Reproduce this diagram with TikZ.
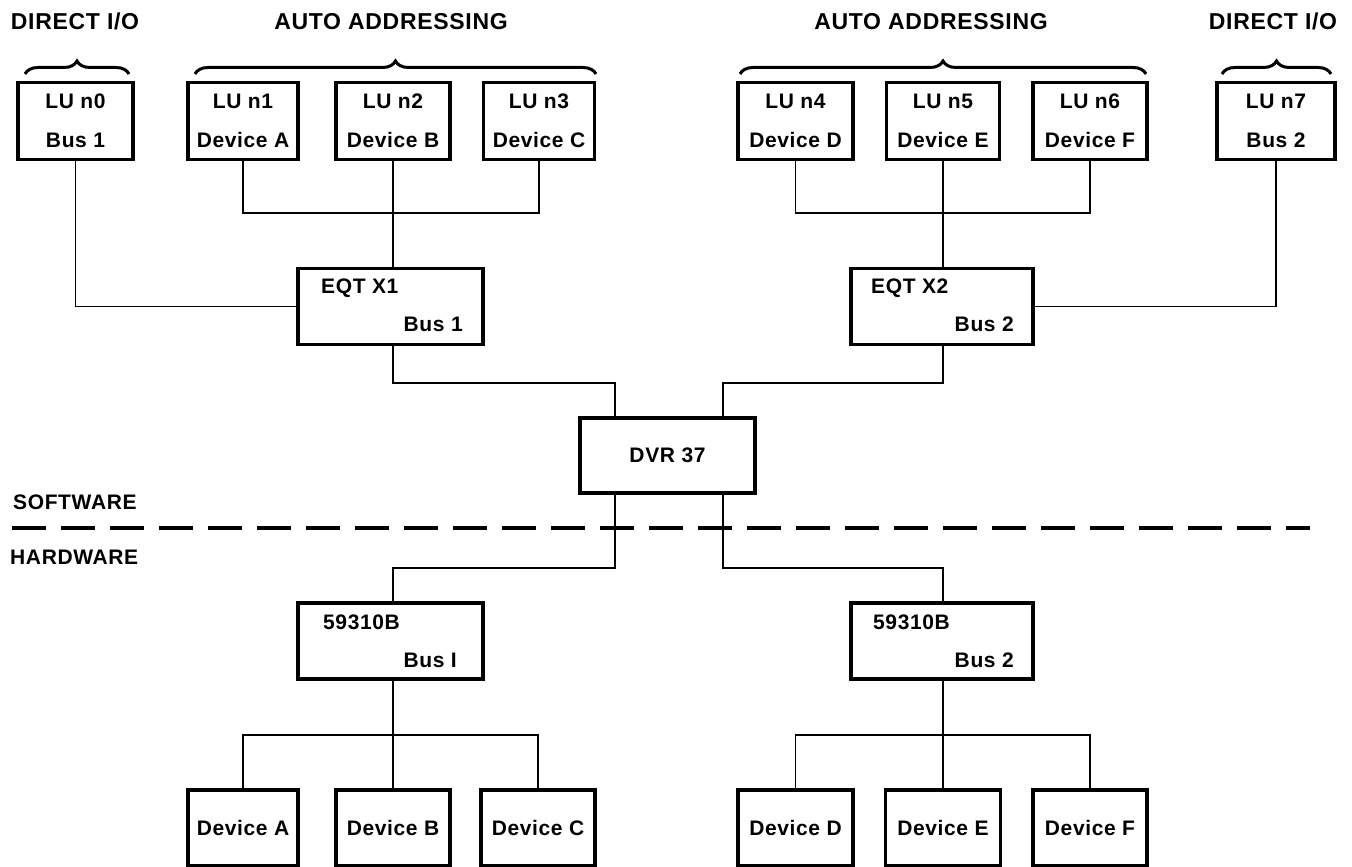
\documentclass[tikz,border=0pt]{standalone}
\usepackage{fontspec}
\setmainfont[LetterSpace=3]{Liberation Sans}
\usetikzlibrary{decorations.pathreplacing}

\begin{document}
\begin{tikzpicture}[x=1pt, y=-1pt,
  box/.style={draw, line width=3.2pt, minimum height=77pt, inner sep=0pt, align=center,
    font=\fontsize{21}{39}\selectfont\bfseries},
  txt/.style={inner sep=0pt, font=\fontsize{21}{24}\selectfont\bfseries},
  head/.style={inner sep=0pt, anchor=base, font=\fontsize{23}{26}\selectfont\bfseries},
  wire/.style={line width=1.7pt},
  group/.style={decorate, decoration={brace, amplitude=13pt}, line width=3pt}]
  \useasboundingbox (0,0) rectangle (1352,867);

  % headings over the logical units
  \node[head] (dio1) at (75,30) {DIRECT I/O};
  \node[head] (auto1) at (391,30) {AUTO ADDRESSING};
  \node[head] (auto2) at (931,30) {AUTO ADDRESSING};
  \node[head] (dio2) at (1273,30) {DIRECT I/O};
  \draw[group] (25,74) -- (129,74);
  \draw[group] (195,74) -- (596,74);
  \draw[group] (740,74) -- (1146,74);
  \draw[group] (1222,74) -- (1331,74);

  % logical units
  \node[box, minimum width=115pt] (n0) at (75.5,121) {LU n0\\Bus 1};
  \node[box, minimum width=110pt] (n1) at (243,121) {LU n1\\Device A};
  \node[box, minimum width=114pt] (n2) at (393,121) {LU n2\\Device B};
  \node[box, minimum width=111pt] (n3) at (539,121) {LU n3\\Device C};
  \node[box, minimum width=115pt] (n4) at (795.5,121) {LU n4\\Device D};
  \node[box, minimum width=113pt] (n5) at (943,121) {LU n5\\Device E};
  \node[box, minimum width=114pt] (n6) at (1090,121) {LU n6\\Device F};
  \node[box, minimum width=118pt] (n7) at (1276,121) {LU n7\\Bus 2};

  % equipment table entries
  \node[box, minimum width=185pt, minimum height=76pt] (eqt1) at (390.5,306.5) {};
  \node[txt, anchor=base west] (eqt1a) at (321,293) {EQT X1};
  \node[txt, anchor=base east] (eqt1b) at (463,331) {Bus 1};
  \node[box, minimum width=182pt, minimum height=76pt] (eqt2) at (942,306.5) {};
  \node[txt, anchor=base west] (eqt2a) at (871,293) {EQT X2};
  \node[txt, anchor=base east] (eqt2b) at (1014,331) {Bus 2};

  % driver
  \node[box, minimum width=175pt, minimum height=75pt] (dvr) at (667.5,455.5) {DVR 37};

  % software / hardware split
  \node[txt, anchor=base west] (sw) at (13,509) {SOFTWARE};
  \node[txt, anchor=base west] (hw) at (10,564) {HARDWARE};
  \coordinate (splitL) at (12,528);
  \coordinate (splitR) at (1310,528);
  \draw[line width=3.5pt, dash pattern=on 34pt off 15pt] (splitL) -- (splitR);

  % interface cards
  \node[box, minimum width=185pt, minimum height=76pt] (card1) at (390.5,641) {};
  \node[txt, anchor=base west] (card1a) at (323,629) {59310B};
  \node[txt, anchor=base east] (card1b) at (457,667) {Bus I};
  \node[box, minimum width=182pt, minimum height=76pt] (card2) at (942,641) {};
  \node[txt, anchor=base west] (card2a) at (873,629) {59310B};
  \node[txt, anchor=base east] (card2b) at (1014,667) {Bus 2};

  % devices
  \node[box, minimum width=110pt, minimum height=76pt] (devA) at (243,828) {Device A};
  \node[box, minimum width=114pt, minimum height=76pt] (devB) at (393,828) {Device B};
  \node[box, minimum width=114pt, minimum height=76pt] (devC) at (538,828) {Device C};
  \node[box, minimum width=115pt, minimum height=76pt] (devD) at (795.5,828) {Device D};
  \node[box, minimum width=115pt, minimum height=76pt] (devE) at (943,828) {Device E};
  \node[box, minimum width=114pt, minimum height=76pt] (devF) at (1090,828) {Device F};

  % junction points
  \coordinate (busL) at (393,213);
  \coordinate (busR) at (943,213);
  \coordinate (inL) at (615,383);
  \coordinate (inR) at (723,383);
  \coordinate (outL) at (615,568);
  \coordinate (outR) at (723,568);
  \coordinate (devbusL) at (393,735);
  \coordinate (devbusR) at (943,735);

  % software side
  \draw[wire] (n1.south) |- (busL) -| (n3.south);
  \draw[wire] (n2.south) -- (eqt1.north -| n2.south);
  \draw[wire] (n4.south) |- (busR) -| (n6.south);
  \draw[wire] (n5.south) -- (eqt2.north -| n5.south);
  \draw[wire] (n0.south) |- (eqt1.west);
  \draw[wire] (n7.south) |- (eqt2.east);
  \draw[wire] (eqt1.south -| busL) |- (inL) -- (dvr.north -| inL);
  \draw[wire] (eqt2.south -| busR) |- (inR) -- (dvr.north -| inR);

  % hardware side
  \draw[wire] (dvr.south -| outL) -- (outL) -| (card1.north -| busL);
  \draw[wire] (dvr.south -| outR) -- (outR) -| (card2.north -| busR);
  \draw[wire] (card1.south -| devbusL) -- (devbusL);
  \draw[wire] (devA.north) |- (devbusL) -| (devC.north);
  \draw[wire] (devbusL) -- (devB.north);
  \draw[wire] (card2.south -| devbusR) -- (devbusR);
  \draw[wire] (devD.north) |- (devbusR) -| (devF.north);
  \draw[wire] (devbusR) -- (devE.north);
\end{tikzpicture}
\end{document}
